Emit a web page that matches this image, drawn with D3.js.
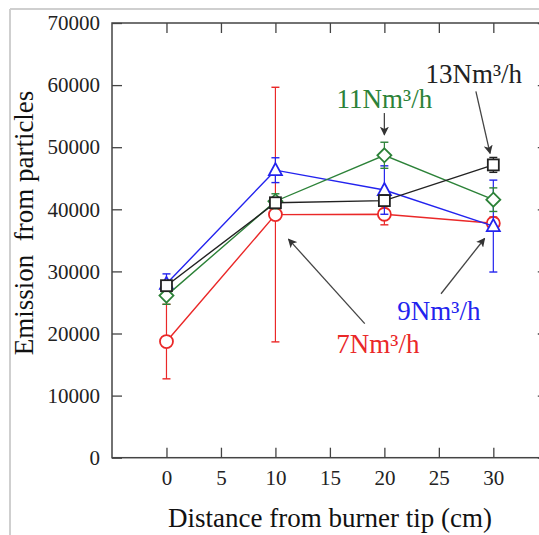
<!DOCTYPE html>
<html><head><meta charset="utf-8">
<script src="https://cdn.jsdelivr.net/npm/d3@7"></script>
<style>
html,body{margin:0;padding:0;background:#fff;}
svg{display:block;}
svg text{font-family:"Liberation Serif","Times New Roman",serif !important;}
</style></head>
<body>
<svg id="chart" width="539" height="535"></svg>
<script>
// ---- data ----
const distances = [0, 10, 20, 30];
const xTicks = [0, 5, 10, 15, 20, 25, 30];
const yTicks = [0, 10000, 20000, 30000, 40000, 50000, 60000, 70000];

const s7Values  = [18700, 39150, 39200, 37750];
const s7Errors  = [6000, 20500, 1700, 1000];
const s9Values  = [28000, 46300, 43100, 37300];
const s9Errors  = [1600, 2000, 3900, 7400];
const s11Values = [26100, 41300, 48700, 41550];
const s11Errors = [1400, 1200, 2100, 1900];
const s13Values = [27700, 41050, 41400, 47150];
const s13Errors = [600, 800, 900, 1200];

const seriesNames = ["7Nm³/h", "9Nm³/h", "11Nm³/h", "13Nm³/h"];

// ---- setup ----
const svg = d3.select("#chart");
const W = 539, H = 535;
const x = d3.scaleLinear().domain([-5, 35]).range([112, 547.8]);
const y = d3.scaleLinear().domain([0, 70000]).range([457.7, 23]);

// outer light frame
svg.append("line").attr("x1", 10).attr("x2", 10).attr("y1", 9).attr("y2", H)
  .attr("stroke", "#cfcfcf").attr("stroke-width", 2);
svg.append("line").attr("x1", 10).attr("x2", W).attr("y1", 9).attr("y2", 9)
  .attr("stroke", "#cfcfcf").attr("stroke-width", 2);

const axisColor = "#444";
svg.append("rect").attr("x", x(-5)).attr("y", y(70000))
  .attr("width", x(35) - x(-5)).attr("height", y(0) - y(70000))
  .attr("fill", "none").attr("stroke", axisColor).attr("stroke-width", 1.5);

const tickLen = 10;
const gBottom = svg.append("g").attr("transform", `translate(0,${y(0)})`)
  .call(d3.axisBottom(x).tickValues(xTicks).tickSizeInner(-tickLen).tickSizeOuter(0).tickPadding(12));
const gTop = svg.append("g").attr("transform", `translate(0,${y(70000)})`)
  .call(d3.axisTop(x).tickValues(xTicks).tickSizeInner(-tickLen).tickSizeOuter(0).tickFormat(""));
const gLeft = svg.append("g").attr("transform", `translate(${x(-5)},0)`)
  .call(d3.axisLeft(y).tickValues(yTicks).tickSizeInner(-tickLen).tickSizeOuter(0).tickPadding(12).tickFormat(d3.format("d")));
const gRight = svg.append("g").attr("transform", `translate(${x(35)},0)`)
  .call(d3.axisRight(y).tickValues(yTicks).tickSizeInner(-tickLen).tickSizeOuter(0).tickFormat(""));

[gBottom, gTop, gLeft, gRight].forEach(g => {
  g.attr("font-family", null).attr("font-size", null);
  g.select(".domain").remove();
  g.selectAll(".tick line").attr("stroke", axisColor).attr("stroke-width", 1.3);
  g.selectAll(".tick text").attr("fill", "#222").style("font-size", "21px");
});

// axis titles
svg.append("text").attr("x", 330).attr("y", 527).attr("text-anchor", "middle")
  .style("font-size", "27px").attr("fill", "#111").text("Distance from burner tip (cm)");
svg.append("text").attr("transform", "translate(33,223) rotate(-90)")
  .attr("text-anchor", "middle").style("font-size", "27px").attr("fill", "#111")
  .style("white-space", "pre")
  .text("Emission  from particles");

// ---- series ----
const series = [
  {name: seriesNames[0], vals: s7Values,  errs: s7Errors,  color: "#ea2828", marker: "circle"},
  {name: seriesNames[1], vals: s9Values,  errs: s9Errors,  color: "#2323ee", marker: "triangle"},
  {name: seriesNames[2], vals: s11Values, errs: s11Errors, color: "#2c8238", marker: "diamond"},
  {name: seriesNames[3], vals: s13Values, errs: s13Errors, color: "#222222", marker: "square"}
];

const line = d3.line().x(d => x(d.d)).y(d => y(d.v));
const capW = 4;

series.forEach(s => {
  const pts = distances.map((d, i) => ({d, v: s.vals[i], e: s.errs[i]}));
  const g = svg.append("g");
  pts.forEach(p => {
    const cx = x(p.d);
    g.append("line").attr("x1", cx).attr("x2", cx).attr("y1", y(p.v - p.e)).attr("y2", y(p.v + p.e))
      .attr("stroke", s.color).attr("stroke-width", 1.2);
    [p.v - p.e, p.v + p.e].forEach(v => {
      g.append("line").attr("x1", cx - capW).attr("x2", cx + capW).attr("y1", y(v)).attr("y2", y(v))
        .attr("stroke", s.color).attr("stroke-width", 1.4);
    });
  });
  g.append("path").datum(pts).attr("d", line).attr("fill", "none")
    .attr("stroke", s.color).attr("stroke-width", 1.4);
  pts.forEach(p => {
    const cx = x(p.d), cy = y(p.v);
    let m;
    if (s.marker === "circle") {
      m = g.append("circle").attr("cx", cx).attr("cy", cy).attr("r", 6.5);
    } else if (s.marker === "square") {
      m = g.append("rect").attr("x", cx - 5.5).attr("y", cy - 5.5).attr("width", 11).attr("height", 11);
    } else if (s.marker === "diamond") {
      m = g.append("path").attr("d", `M${cx},${cy - 7}L${cx + 7},${cy}L${cx},${cy + 7}L${cx - 7},${cy}Z`);
    } else {
      m = g.append("path").attr("d", `M${cx},${cy - 7}L${cx + 6.5},${cy + 5}L${cx - 6.5},${cy + 5}Z`);
    }
    m.attr("fill", "#fff").attr("stroke", s.color).attr("stroke-width", 1.8);
  });
});

// ---- annotations ----
const defs = svg.append("defs");
defs.append("marker").attr("id", "arr").attr("viewBox", "0 0 10 10")
  .attr("refX", 9).attr("refY", 5).attr("markerWidth", 9).attr("markerHeight", 9)
  .attr("markerUnits", "userSpaceOnUse").attr("orient", "auto")
  .append("path").attr("d", "M0,0L10,5L0,10L2.5,5Z").attr("fill", "#333");

function arrow(x1, y1, x2, y2) {
  svg.append("line").attr("x1", x1).attr("y1", y1).attr("x2", x2).attr("y2", y2)
    .attr("stroke", "#444").attr("stroke-width", 1.3).attr("marker-end", "url(#arr)");
}
function label(txt, dx, vy, color) {
  svg.append("text").attr("x", x(dx)).attr("y", y(vy)).attr("text-anchor", "middle")
    .style("font-size", "27px").attr("fill", color).text(txt);
}
label(seriesNames[3], 28.2, 60300, "#222");
label(seriesNames[2], 20.0, 56300, series[2].color);
label(seriesNames[1], 25.0, 22200, series[1].color);
label(seriesNames[0], 19.4, 16900, series[0].color);

arrow(x(28.4), y(59000), x(29.7), y(49000));
arrow(x(20), y(55500), x(20), y(52000));
arrow(x(25.2), y(26400), x(29.2), y(35300));
arrow(x(18.2), y(21600), x(11.2), y(35200));
</script>
</body></html>
